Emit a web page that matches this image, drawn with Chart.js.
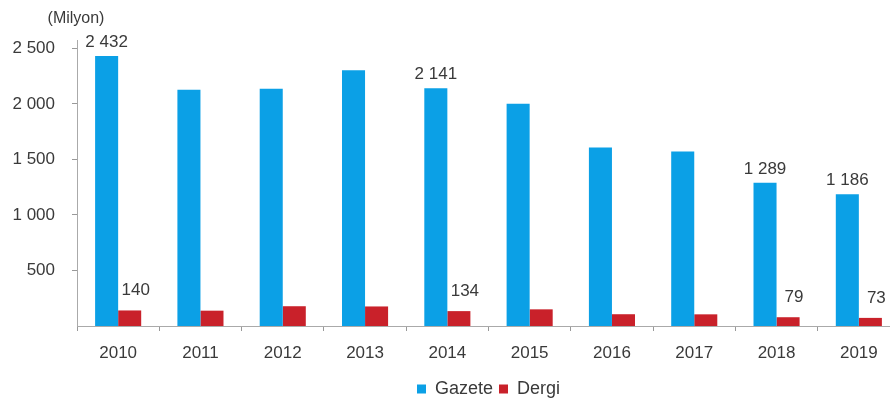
<!DOCTYPE html>
<html>
<head>
<meta charset="utf-8">
<script src="https://cdn.jsdelivr.net/npm/chart.js@4.4.0/dist/chart.umd.min.js"></script>
<style>
  html, body { margin: 0; padding: 0; background: #fff; overflow: hidden; }
  /* the original is cut off on the right, so the canvas is a bit wider than the window */
  #wrap { width: 900px; height: 401px; }
</style>
</head>
<body>
<div id="wrap"><canvas id="chart"></canvas></div>
<script>
const years = ['2010','2011','2012','2013','2014','2015','2016','2017','2018','2019'];
const gazete = [2432, 2127, 2136, 2303, 2141, 2000, 1606, 1570, 1289, 1186];
const dergi = [140, 138, 178, 176, 134, 150, 106, 105, 79, 73];
// only these years carry a value label in the original
const labelled = ['2010','2014','2018','2019'];
const yTicks = [500, 1000, 1500, 2000, 2500];

const FONT = '"Liberation Sans", Arial, sans-serif';
const fmt = v => String(v).replace(/\B(?=(\d{3})+(?!\d))/g, ' ');

const valueLabels = {
    id: 'valueLabels',
    afterDatasetsDraw(chart) {
        const ctx = chart.ctx;
        ctx.save();
        ctx.font = '17px ' + FONT;
        ctx.fillStyle = '#3a3a3a';
        ctx.textAlign = 'center';
        ctx.textBaseline = 'middle';
        chart.data.datasets.forEach((ds, di) => {
            chart.getDatasetMeta(di).data.forEach((bar, i) => {
                if (!labelled.includes(years[i])) return;
                if (di === 0) ctx.fillText(fmt(ds.data[i]), bar.x, bar.y - 14);
                else ctx.fillText(fmt(ds.data[i]), bar.x + 6, bar.y - 20);
            });
        });
        ctx.font = '16px ' + FONT;
        ctx.fillText('(Milyon)', 76, 19);
        ctx.restore();
    }
};

new Chart(document.getElementById('chart'), {
    type: 'bar',
    data: {
        labels: years,
        datasets: [
            { label: 'Gazete', data: gazete, backgroundColor: '#0ba0e6' },
            { label: 'Dergi', data: dergi, backgroundColor: '#c9212a' }
        ]
    },
    options: {
        responsive: true,
        maintainAspectRatio: false,
        animation: false,
        layout: { padding: { top: 40, right: 0, bottom: -7, left: 0 } },
        datasets: { bar: { categoryPercentage: 0.56, barPercentage: 1 } },
        plugins: {
            legend: {
                position: 'bottom',
                fullSize: false,
                labels: {
                    boxWidth: 9, boxHeight: 9, padding: 6,
                    color: '#3a3a3a',
                    font: { size: 18, family: FONT }
                }
            },
            tooltip: { enabled: false }
        },
        scales: {
            x: {
                afterFit: axis => { axis.height = 48; },
                grid: { offset: true, drawOnChartArea: false, tickLength: 5, color: '#999' },
                border: { color: '#aaa' },
                ticks: { color: '#3a3a3a', padding: 12, font: { size: 17, family: FONT } }
            },
            y: {
                min: 0, max: 2575,
                afterBuildTicks: axis => { axis.ticks = yTicks.map(v => ({ value: v })); },
                afterFit: axis => { axis.width = 77; },
                grid: { drawOnChartArea: false, tickLength: 5, color: '#999' },
                border: { color: '#aaa' },
                ticks: {
                    color: '#3a3a3a', padding: 17,
                    font: { size: 17, family: FONT },
                    callback: v => fmt(v)
                }
            }
        }
    },
    plugins: [valueLabels]
});
</script>
</body>
</html>
